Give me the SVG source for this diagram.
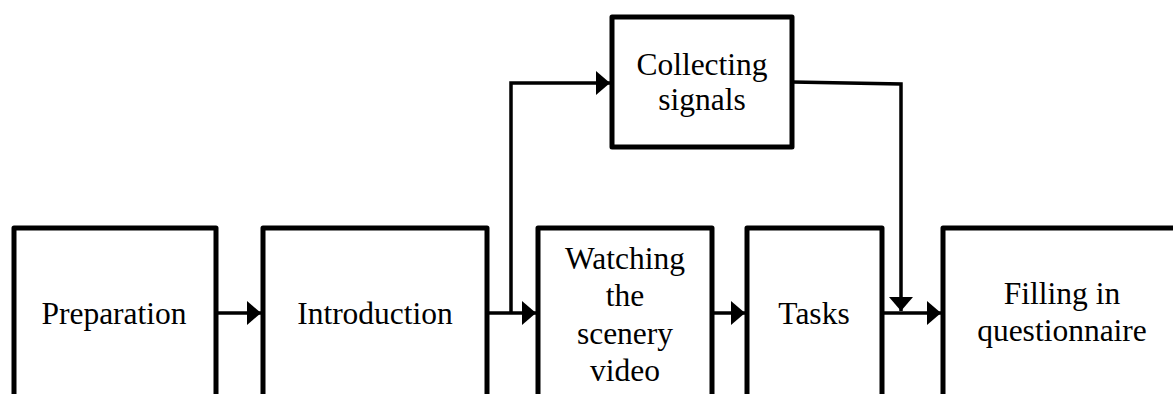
<svg xmlns="http://www.w3.org/2000/svg" width="1173" height="394" viewBox="0 0 1173 394">
<defs>
<style>
.box{fill:#fff;stroke:#000;stroke-width:5;stroke-linejoin:round}
.lbl{font-family:"Liberation Serif","Times New Roman",serif;font-size:31.5px;fill:#000;text-anchor:middle}
.conn{fill:none;stroke:#000;stroke-width:3.5}
</style>
<marker id="ah" markerWidth="14" markerHeight="24" refX="14" refY="12" orient="auto" markerUnits="userSpaceOnUse">
<path d="M0,0 L14,12 L0,24 Z" fill="#000"/>
</marker>
</defs>
<rect width="1173" height="394" fill="#fff"/>
<g id="connectors">
<line class="conn" x1="216" y1="313" x2="261" y2="313" marker-end="url(#ah)"/>
<line class="conn" x1="487" y1="313" x2="536" y2="313" marker-end="url(#ah)"/>
<polyline class="conn" points="511,313 511,83 610,83" marker-end="url(#ah)"/>
<line class="conn" x1="712" y1="313" x2="745" y2="313" marker-end="url(#ah)"/>
<line class="conn" x1="882" y1="313" x2="941" y2="313" marker-end="url(#ah)"/>
<polyline class="conn" points="792,82 901,84 901,311" marker-end="url(#ah)"/>
</g>
<g id="preparation">
<rect class="box" x="14" y="228" width="202" height="200"/>
<text class="lbl" x="114" y="324">Preparation</text>
</g>
<g id="introduction">
<rect class="box" x="263" y="228" width="224" height="200"/>
<text class="lbl" x="375" y="324">Introduction</text>
</g>
<g id="watching">
<rect class="box" x="538" y="228" width="174" height="200"/>
<text class="lbl" x="625" y="269">Watching</text>
<text class="lbl" x="625" y="306">the</text>
<text class="lbl" x="625" y="344">scenery</text>
<text class="lbl" x="625" y="381">video</text>
</g>
<g id="tasks">
<rect class="box" x="747" y="228" width="135" height="200"/>
<text class="lbl" x="814" y="324">Tasks</text>
</g>
<g id="filling">
<rect class="box" x="943" y="228" width="260" height="200"/>
<text class="lbl" x="1062" y="304">Filling in</text>
<text class="lbl" x="1062" y="341">questionnaire</text>
</g>
<g id="collecting">
<rect class="box" x="612" y="17" width="180" height="130"/>
<text class="lbl" x="702" y="75">Collecting</text>
<text class="lbl" x="702" y="110">signals</text>
</g>
</svg>
